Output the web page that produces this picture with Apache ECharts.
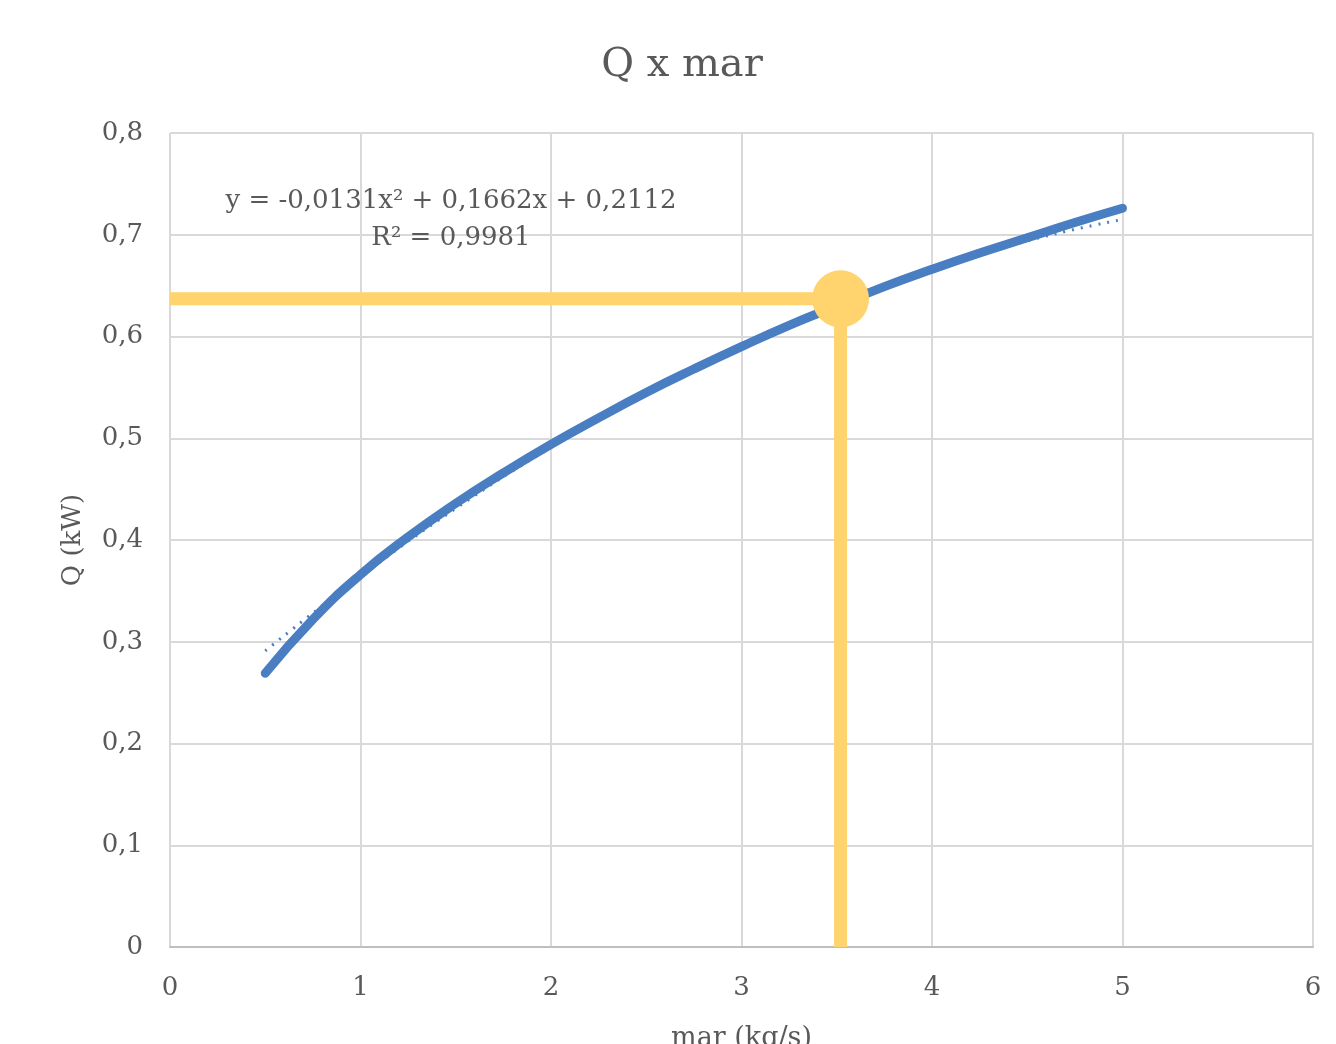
<!DOCTYPE html>
<html><head><meta charset="utf-8">
<script src="https://cdn.jsdelivr.net/npm/echarts@6/dist/echarts.min.js"></script>
<style>html,body{margin:0;padding:0;background:#fff}#c{width:1336px;height:1044px}</style>
</head><body><div id="c"></div>
<script>
var xValues = [0.5,0.75,1.0,1.25,1.5,1.75,2.0,2.25,2.5,2.75,3.0,3.25,3.5,3.75,4.0,4.25,4.5,4.75,5.0];
var qValues = [0.269,0.322,0.366,0.403,0.436,0.466,0.494,0.520,0.545,0.568,0.590,0.611,0.630,0.649,0.666,0.682,0.697,0.712,0.726];
var trendX = [0.5,1.0,1.5,2.0,2.5,3.0,3.5,4.0,4.5,5.0];
var trendY = [0.291,0.364,0.431,0.491,0.545,0.592,0.632,0.666,0.694,0.715];
var markX = 3.52;
var markQ = 0.637;
var yTicks = ['0','0,1','0,2','0,3','0,4','0,5','0,6','0,7','0,8'];
var titleText = 'Q x mar';
var xName = 'mar (kg/s)';
var yName = 'Q (kW)';
var eqText = 'y = -0,0131x² + 0,1662x + 0,2112';
var r2Text = 'R² = 0,9981';

var font = '"DejaVu Serif", "Liberation Serif", serif';
var chart = echarts.init(document.getElementById('c'));
chart.setOption({
  animation:false,
  backgroundColor:'#fff',
  grid:{left:170,right:23,top:133,bottom:97,outerBoundsMode:'none',containLabel:false},
  xAxis:{type:'value',min:0,max:6,interval:1,
    name:xName,nameLocation:'middle',nameGap:78,
    nameTextStyle:{fontFamily:font,fontSize:27,color:'#595959'},
    axisLine:{show:true,lineStyle:{color:'#bfbfbf',width:2}},axisTick:{show:false},
    axisLabel:{fontFamily:font,fontSize:26,color:'#595959',margin:28},
    splitLine:{show:true,lineStyle:{color:'#d9d9d9',width:2}}},
  yAxis:{type:'value',min:0,max:0.8,interval:0.1,
    name:yName,nameLocation:'middle',nameGap:84,nameRotate:90,
    nameTextStyle:{fontFamily:font,fontSize:26,color:'#595959'},
    axisLine:{show:false},axisTick:{show:false},
    axisLabel:{fontFamily:font,fontSize:26,color:'#595959',margin:27,
      formatter:function(v){return yTicks[Math.round(v*10)];}},
    splitLine:{show:true,lineStyle:{color:'#d9d9d9',width:2}}},
  series:[
    {type:'line',data:xValues.map(function(x,i){return [x,qValues[i]];}),smooth:0.5,symbol:'none',
      lineStyle:{color:'#4a7ec2',width:9,cap:'round'},z:3},
    {type:'line',data:trendX.map(function(x,i){return [x,trendY[i]];}),smooth:true,symbol:'none',
      lineStyle:{color:'#4a7ec2',width:3,type:[2,7]},z:2},
    {type:'line',data:[[0,markQ],[markX,markQ],[markX,0]],symbol:'none',
      lineStyle:{color:'#ffd36e',width:13},z:4},
    {type:'scatter',data:[[markX,markQ]],symbolSize:57,itemStyle:{color:'#ffd36e',opacity:1},z:5}
  ],
  graphic:[
    {type:'text',x:682,y:66,style:{text:titleText,fontFamily:font,fontSize:40,fill:'#595959',textAlign:'center',textVerticalAlign:'middle'},z:10},
    {type:'text',x:451,y:201,style:{text:eqText,fontFamily:font,fontSize:26,fill:'#595959',textAlign:'center',textVerticalAlign:'middle'},z:10},
    {type:'text',x:451,y:238,style:{text:r2Text,fontFamily:font,fontSize:26,fill:'#595959',textAlign:'center',textVerticalAlign:'middle'},z:10}
  ]
});
</script></body></html>
